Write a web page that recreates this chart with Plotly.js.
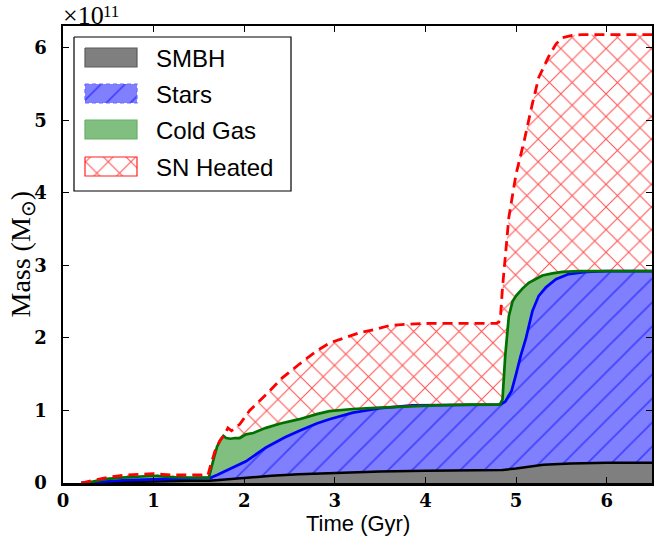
<!DOCTYPE html>
<html>
<head>
<meta charset="utf-8">
<script src="https://cdn.plot.ly/plotly-3.0.1.min.js"></script>
<style>
  html, body { margin: 0; padding: 0; background: #fff; }
  #chart { width: 654px; height: 537px; }
</style>
</head>
<body>
<div id="chart"></div>
<script>
// Cumulative mass budget of the galaxy (units of 1e11 solar masses) vs cosmic time (Gyr).
// Each array is the upper edge of one stacked component.

// Supermassive black hole
const smbhTime = [0.2, 0.5, 1.0, 1.4, 1.62, 1.8, 2.0, 2.3, 2.6, 3.0, 3.5, 4.0, 4.5, 4.85, 5.0, 5.15, 5.3, 5.6, 6.0, 6.5];
const smbhMass = [0.0, 0.01, 0.02, 0.03, 0.03, 0.05, 0.07, 0.10, 0.12, 0.14, 0.16, 0.17, 0.175, 0.18, 0.20, 0.23, 0.25, 0.27, 0.28, 0.28];

// SMBH + stars
const starsTime = [0.2, 0.4, 0.7, 1.0, 1.3, 1.62, 1.7, 1.8, 1.9, 2.02, 2.24, 2.45, 2.61, 2.8, 2.94, 3.2, 3.5, 3.85, 4.2, 4.5, 4.82, 4.88, 4.95, 5.0, 5.05, 5.11, 5.18, 5.25, 5.33, 5.44, 5.58, 5.77, 6.0, 6.5];
const starsMass = [0.0, 0.02, 0.04, 0.05, 0.06, 0.07, 0.11, 0.17, 0.23, 0.30, 0.49, 0.63, 0.72, 0.82, 0.88, 0.97, 1.03, 1.07, 1.075, 1.08, 1.08, 1.12, 1.27, 1.50, 1.75, 2.00, 2.37, 2.58, 2.70, 2.81, 2.88, 2.91, 2.92, 2.92];

// SMBH + stars + cold gas
const coldTime = [0.25, 0.35, 0.45, 0.6, 0.8, 1.0, 1.1, 1.2, 1.4, 1.61, 1.66, 1.7, 1.74, 1.77, 1.8, 1.85, 1.9, 1.95, 2.02, 2.1, 2.24, 2.4, 2.61, 2.8, 2.94, 3.2, 3.5, 3.8, 4.1, 4.5, 4.82, 4.85, 4.88, 4.92, 4.96, 5.0, 5.07, 5.14, 5.2, 5.29, 5.4, 5.51, 5.7, 6.5];
const coldMass = [0.0, 0.03, 0.05, 0.07, 0.09, 0.10, 0.09, 0.08, 0.075, 0.075, 0.32, 0.50, 0.60, 0.65, 0.62, 0.61, 0.62, 0.62, 0.67, 0.69, 0.76, 0.82, 0.88, 0.95, 0.99, 1.02, 1.04, 1.06, 1.07, 1.08, 1.08, 1.15, 1.75, 2.30, 2.50, 2.58, 2.68, 2.76, 2.80, 2.86, 2.89, 2.91, 2.92, 2.92];

// SMBH + stars + cold gas + supernova-heated gas
const snTime = [0.2, 0.35, 0.5, 0.7, 0.85, 1.0, 1.1, 1.2, 1.4, 1.6, 1.63, 1.68, 1.73, 1.78, 1.82, 1.86, 1.95, 2.06, 2.25, 2.42, 2.61, 2.8, 2.94, 3.1, 3.27, 3.45, 3.6, 3.8, 4.04, 4.4, 4.78, 4.81, 4.83, 4.85, 4.87, 4.92, 5.0, 5.09, 5.18, 5.25, 5.36, 5.44, 5.51, 5.62, 5.73, 6.5];
const snMass = [0.0, 0.04, 0.08, 0.11, 0.12, 0.13, 0.12, 0.11, 0.11, 0.11, 0.25, 0.45, 0.58, 0.66, 0.76, 0.72, 0.81, 1.00, 1.23, 1.45, 1.64, 1.82, 1.93, 2.00, 2.07, 2.12, 2.17, 2.19, 2.20, 2.20, 2.20, 2.22, 2.33, 2.69, 2.97, 3.66, 4.26, 4.72, 5.23, 5.59, 5.88, 6.05, 6.14, 6.17, 6.18, 6.18];

const yTicks = [0, 1, 2, 3, 4, 5, 6];
const xTicks = [0, 1, 2, 3, 4, 5, 6];
const legendNames = ['SMBH', 'Stars', 'Cold Gas', 'SN Heated'];

const GRAY = '#7f7f7f', BLUE_FILL = '#8080ff', GREEN_FILL = '#80bf80';
const starsHatch = { shape: '/', size: 17, solidity: 0.1, fgcolor: '#0000ff', fgopacity: 0.5, bgcolor: BLUE_FILL };
const snHatch = { shape: 'x', size: 16, solidity: 0.12, fgcolor: '#ff0000', fgopacity: 0.7, bgcolor: 'rgba(255,255,255,0)' };

const traces = [
  {
    x: smbhTime, y: smbhMass, type: 'scatter', mode: 'lines', name: 'SMBH',
    fill: 'tozeroy', fillcolor: GRAY,
    line: { color: '#000000', width: 2.5 }, showlegend: false, hoverinfo: 'skip'
  },
  {
    x: starsTime, y: starsMass, type: 'scatter', mode: 'lines', name: 'Stars',
    fill: 'tonexty', fillcolor: BLUE_FILL, fillpattern: starsHatch,
    line: { color: '#0000ff', width: 2.7 }, showlegend: false, hoverinfo: 'skip'
  },
  {
    x: coldTime, y: coldMass, type: 'scatter', mode: 'lines', name: 'Cold Gas',
    fill: 'tonexty', fillcolor: GREEN_FILL,
    line: { color: '#007000', width: 2.7 }, showlegend: false, hoverinfo: 'skip'
  },
  {
    x: snTime, y: snMass, type: 'scatter', mode: 'lines', name: 'SN Heated',
    fill: 'tonexty', fillcolor: 'rgba(255,255,255,0)', fillpattern: snHatch,
    line: { color: '#ff0000', width: 2.8, dash: '10px,6px' }, showlegend: false, hoverinfo: 'skip'
  }
];

// Legend panel drawn on a pixel-unit overlay axis (origin at the plot's top-left corner).
function rectPath(x0, y0, x1, y1) {
  return { x: [x0, x1, x1, x0, x0], y: [y0, y0, y1, y1, y0] };
}
const legendBox = rectPath(11, 11, 228, 165);
traces.push({
  x: legendBox.x, y: legendBox.y, xaxis: 'x2', yaxis: 'y2', type: 'scatter', mode: 'lines',
  fill: 'toself', fillcolor: '#ffffff', line: { color: '#000000', width: 1.2 },
  showlegend: false, hoverinfo: 'skip'
});
const patchRows = [[22, 41], [58, 77], [94, 113], [131, 150]];
const patchStyles = [
  { fillcolor: GRAY, line: { color: '#5a5a5a', width: 1.2 } },
  { fillcolor: BLUE_FILL, line: { color: '#6a6aff', width: 1.2, dash: '4px,3px' }, fillpattern: starsHatch },
  { fillcolor: GREEN_FILL, line: { color: '#66b066', width: 1.2 } },
  { fillcolor: 'rgba(255,255,255,0)', line: { color: '#ff2020', width: 1.2 }, fillpattern: snHatch }
];
const annotations = [];
patchRows.forEach(function (row, i) {
  const r = rectPath(22, row[0], 74, row[1]);
  traces.push(Object.assign({
    x: r.x, y: r.y, xaxis: 'x2', yaxis: 'y2', type: 'scatter', mode: 'lines',
    fill: 'toself', showlegend: false, hoverinfo: 'skip'
  }, patchStyles[i]));
  annotations.push({
    xref: 'x2', yref: 'y2', x: 91, y: (row[0] + row[1]) / 2 + 1,
    xanchor: 'left', yanchor: 'middle', showarrow: false, text: legendNames[i],
    font: { family: 'Liberation Sans, Arial, sans-serif', size: 24, color: '#000000' }
  });
});

// Axis titles and the scale factor above the y axis
const plotW = 589, plotH = 457;
const serif = 'Liberation Serif, Times New Roman, serif';
annotations.push({
  xref: 'paper', yref: 'paper', x: 0.5, y: -40 / plotH, xanchor: 'center', yanchor: 'middle',
  showarrow: false, text: 'Time (Gyr)',
  font: { family: 'Liberation Sans, Arial, sans-serif', size: 22, color: '#000000' }
});
annotations.push({
  xref: 'paper', yref: 'paper', x: -41 / plotW, y: 0.5, xanchor: 'center', yanchor: 'middle',
  textangle: -90, showarrow: false, text: 'Mass (M<sub>⊙</sub>)',
  font: { family: serif, size: 28, color: '#000000' }
});
annotations.push({
  xref: 'paper', yref: 'paper', x: -2 / plotW, y: 1, xanchor: 'left', yanchor: 'bottom',
  yshift: -6, showarrow: false, text: '×10',
  font: { family: serif, size: 26, color: '#000000' }
});
annotations.push({
  xref: 'paper', yref: 'paper', x: 38 / plotW, y: 1, xanchor: 'left', yanchor: 'bottom',
  yshift: 3, showarrow: false, text: '11',
  font: { family: serif, size: 17, color: '#000000' }
});

const tickFont = { family: 'DejaVu Serif, serif', size: 18, color: '#000000', weight: 'bold' };

const layout = {
  width: 654, height: 537,
  margin: { l: 63, r: 2, t: 26, b: 54 },
  paper_bgcolor: '#ffffff', plot_bgcolor: '#ffffff',
  showlegend: false,
  xaxis: {
    range: [0, 6.5], tickvals: xTicks, ticktext: xTicks.map(String),
    ticks: 'inside', ticklen: 6, tickwidth: 1, tickcolor: '#000000',
    showline: true, linewidth: 2.5, linecolor: '#000000', mirror: 'ticks',
    showgrid: false, zeroline: false, tickfont: tickFont, ticklabelstandoff: 0
  },
  yaxis: {
    range: [0, 6.3], tickvals: yTicks, ticktext: yTicks.map(String),
    ticks: 'inside', ticklen: 6, tickwidth: 1, tickcolor: '#000000',
    showline: true, linewidth: 2.5, linecolor: '#000000', mirror: 'ticks',
    showgrid: false, zeroline: false, tickfont: tickFont, ticklabelstandoff: 10
  },
  xaxis2: { overlaying: 'x', anchor: 'y2', range: [0, plotW], visible: false, fixedrange: true },
  yaxis2: { overlaying: 'y', anchor: 'x2', range: [plotH, 0], visible: false, fixedrange: true },
  annotations: annotations
};

Plotly.newPlot('chart', traces, layout, { staticPlot: true, displayModeBar: false });
</script>
</body>
</html>
